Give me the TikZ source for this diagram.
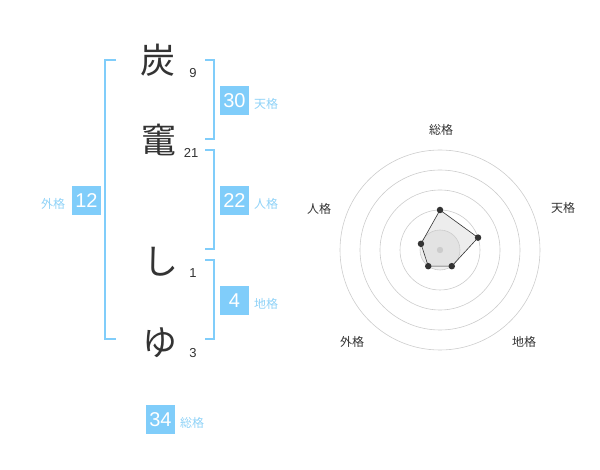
\documentclass[tikz,border=0pt]{standalone}
\usepackage{fontspec}
\setmainfont{Liberation Sans}
\newfontfamily\jp{Noto Sans CJK JP}
\definecolor{boxblue}{HTML}{80CDFA}
\definecolor{lblblue}{HTML}{8FD2F7}
\definecolor{ink}{HTML}{333333}
\definecolor{ring}{HTML}{CCCCCC}
\begin{document}
\begin{tikzpicture}[x=1pt,y=-1pt,
  bigch/.style={font=\jp\fontsize{35}{35}\selectfont, text=ink, inner sep=0pt},
  strokes/.style={font=\fontsize{13}{13}\selectfont, text=ink, inner sep=0pt},
  numbox/.style={fill=boxblue, text=white, minimum width=29pt, minimum height=29pt, inner sep=0pt, font=\fontsize{20}{20}\selectfont},
  kaku/.style={text=lblblue, font=\jp\fontsize{12}{12}\selectfont, inner sep=0pt},
  brk/.style={draw=boxblue, line width=1.8pt},
  rlabel/.style={text=ink, font=\jp\fontsize{12}{12}\selectfont, inner sep=0pt},
  pt/.style={circle, fill=ink, inner sep=0pt, minimum size=6.5pt}]
\useasboundingbox (0,0) rectangle (600,470);
% characters
\node[bigch] (c1) at (158,60) {炭};
\node[strokes] (s1) at (193,73) {9};
\node[bigch] (c2) at (159,140) {竃};
\node[strokes] (s2) at (191,153) {21};
\node[bigch] (c3) at (161,262) {し};
\node[strokes] (s3) at (193,273) {1};
\node[bigch] (c4) at (160,343) {ゆ};
\node[strokes] (s4) at (193,353) {3};
% brackets
\draw[brk] (116,60) -- (105,60) -- (105,339) -- (116,339);
\draw[brk] (205,60) -- (214,60) -- (214,139) -- (205,139);
\draw[brk] (205,150) -- (214,150) -- (214,249) -- (205,249);
\draw[brk] (205,260) -- (214,260) -- (214,339) -- (205,339);
% boxes
\node[numbox] (b30) at (234.5,100.5) {30};
\node[kaku] (k30) at (266,104) {天格};
\node[numbox] (b22) at (234.5,200.5) {22};
\node[kaku] (k22) at (266,204) {人格};
\node[numbox] (b12) at (86.5,200.5) {12};
\node[kaku] (k12) at (53,204) {外格};
\node[numbox] (b4) at (234.5,300.5) {4};
\node[kaku] (k4) at (266,304) {地格};
\node[numbox] (b34) at (160.5,419.5) {34};
\node[kaku] (k34) at (192,423) {総格};
% radar
\coordinate (O) at (440,250);
\fill[black!6] (O) circle[radius=20];
\foreach \r in {20,40,60,80,100} \draw[ring, line width=0.6pt] (O) circle[radius=\r];
\fill[ring] (O) circle[radius=3.2];
\path (O) ++(0,-40) coordinate (pA);
\path (O) ++(38.04,-12.36) coordinate (pB);
\path (O) ++(11.76,16.18) coordinate (pC);
\path (O) ++(-11.76,16.18) coordinate (pD);
\path (O) ++(-19.02,-6.18) coordinate (pE);
\filldraw[fill=black!20, fill opacity=0.35, draw=ink, line width=0.6pt] (pA) -- (pB) -- (pC) -- (pD) -- (pE) -- cycle;
\foreach \p in {pA,pB,pC,pD,pE} \node[pt] at (\p) {};
\node[rlabel] (rA) at (441,130) {総格};
\node[rlabel] (rB) at (563,208) {天格};
\node[rlabel] (rC) at (524,342) {地格};
\node[rlabel] (rD) at (352,342) {外格};
\node[rlabel] (rE) at (319,209) {人格};
\end{tikzpicture}
\end{document}
